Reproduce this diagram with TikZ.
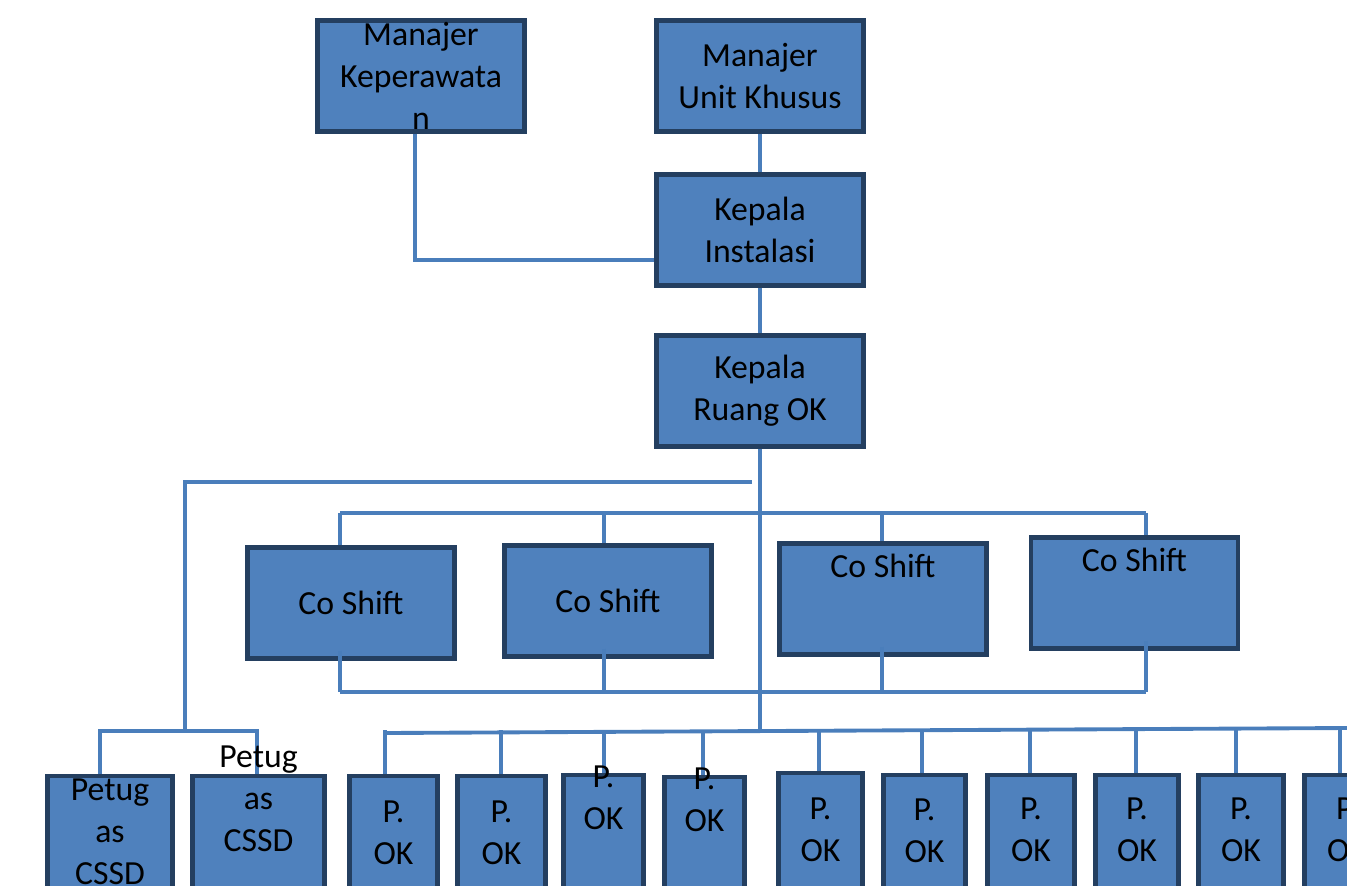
\documentclass[tikz,border=0pt]{standalone}
\usepackage{fontspec}
\setmainfont{Carlito}
\usepackage{tikz}
\usetikzlibrary{positioning,calc}
\definecolor{boxfill}{HTML}{4F81BD}
\definecolor{boxline}{HTML}{243F60}
\definecolor{connline}{HTML}{4A7EBB}

\begin{document}
\begin{tikzpicture}[
        box/.style={draw=boxline, line width=1.4pt, fill=boxfill, minimum width=2.07cm,
            minimum height=1.11cm, inner sep=0pt, align=center,
            font=\fontsize{9.6}{11.9}\selectfont},
        txt/.style={inner sep=0pt, align=center, font=\fontsize{9.6}{11.9}\selectfont},
        conn/.style={draw=connline, line width=1.1pt}]
    \useasboundingbox (0,0) rectangle (13.47,-8.85);
    \clip (0,0) rectangle (13.47,-8.85);

    % boxes
    \node[box] (mk) at (4.21,-0.76) {Manajer\\Keperawata\\n};
    \node[box] (mu) at (7.60,-0.76) {Manajer\\Unit Khusus};
    \node[box] (ki) at (7.60,-2.30) {Kepala\\Instalasi};
    \node[box] (kr) at (7.60,-3.91) {Kepala\\Ruang OK};
    \node[box] (cs1) at (3.51,-6.03) {Co Shift};
    \node[box] (cs2) at (6.08,-6.01) {Co Shift};
    \node[box] (cs3) at (8.83,-5.99) {};
    \node[box] (cs4) at (11.345,-5.93) {};
    \node[box, anchor=north, minimum width=1.25cm, minimum height=1.6cm] (cssd1) at (1.10,-7.735) {};
    \node[box, anchor=north, minimum width=1.32cm, minimum height=1.6cm] (cssd2) at (2.585,-7.735) {};
    \foreach \i/\xc/\w/\top in {1/3.935/0.88/7.735, 2/5.015/0.88/7.735, 3/6.035/0.80/7.725,
            4/7.045/0.80/7.745, 5/8.205/0.84/7.705, 6/9.245/0.82/7.725, 7/10.31/0.87/7.725,
            8/11.37/0.83/7.725, 9/12.41/0.85/7.725, 10/13.47/0.85/7.725}
        \node[box, anchor=north, minimum width=\w cm, minimum height=1.6cm] (pok\i) at (\xc,-\top) {};

    % connectors
    \coordinate (okL) at (3.85,-7.33);
    \coordinate (okR) at (13.47,-7.28);
    \coordinate (okbar) at (3.85,-7.30);
    \coordinate (csL) at (3.40,-5.13);
    \coordinate (csR) at (11.46,-5.13);
    \coordinate (cbL) at (3.40,-6.92);
    \coordinate (cbR) at (11.46,-6.92);
    \coordinate (ltE) at (7.52,-4.82);
    \coordinate (lt) at (1.85,-4.82);
    \coordinate (lb) at (1.85,-7.31);

    \draw[conn] ([xshift=-0.06cm]mk.south) |- ([yshift=-0.30cm]ki.west);
    \draw[conn] (mu.south) -- (ki.north);
    \draw[conn] (ki.south) -- (kr.north);
    \draw[conn] (kr.south) -- (kr.south |- okbar);

    \draw[conn] (ltE) -- (lt) -- (lb);
    \draw[conn] ([xshift=-0.10cm]cssd1.north) -- ([xshift=-0.10cm]cssd1.north |- lb)
        -- ([xshift=-0.015cm]cssd2.north |- lb) -- ([xshift=-0.015cm]cssd2.north);

    \draw[conn] (csL) -- (csR);
    \draw[conn] (cbL) -- (cbR);
    \foreach \n/\dx in {cs1/-0.11, cs2/-0.04, cs3/-0.01, cs4/0.115} {
        \draw[conn] ([xshift=\dx cm]\n.north) -- ([xshift=\dx cm]\n.north |- csL);
        \draw[conn] ([xshift=\dx cm, yshift=0.1cm]\n.south) -- ([xshift=\dx cm]\n.south |- cbL);
    }

    \draw[conn] (okL) -- (okR);
    \foreach \i/\dx in {1/-0.085, 2/-0.005, 3/0.005, 4/-0.015, 5/-0.015, 6/-0.025,
            7/-0.01, 8/-0.01, 9/-0.05, 10/-0.07}
        \draw[conn] ([xshift=\dx cm]pok\i.north) -- ([xshift=\dx cm]pok\i.north |- okbar);

    % texts
    \node[txt] (cs3t) at (8.83,-5.66) {Co Shift};
    \node[txt] (cs4t) at (11.345,-5.60) {Co Shift};
    \node[txt] (cssd1t) at (1.10,-8.32) {Petug\\as\\CSSD};
    \node[txt] (cssd2t) at (2.585,-7.99) {Petug\\as\\CSSD};
    \foreach \i/\xc/\ty in {1/3.935/8.325, 2/5.015/8.325, 3/6.035/7.975, 4/7.045/7.995,
            5/8.205/8.295, 6/9.245/8.305, 7/10.31/8.30, 8/11.37/8.30, 9/12.41/8.30, 10/13.47/8.30}
        \node[txt] (pok\i t) at (\xc,-\ty) {P.\\OK};
\end{tikzpicture}
\end{document}
